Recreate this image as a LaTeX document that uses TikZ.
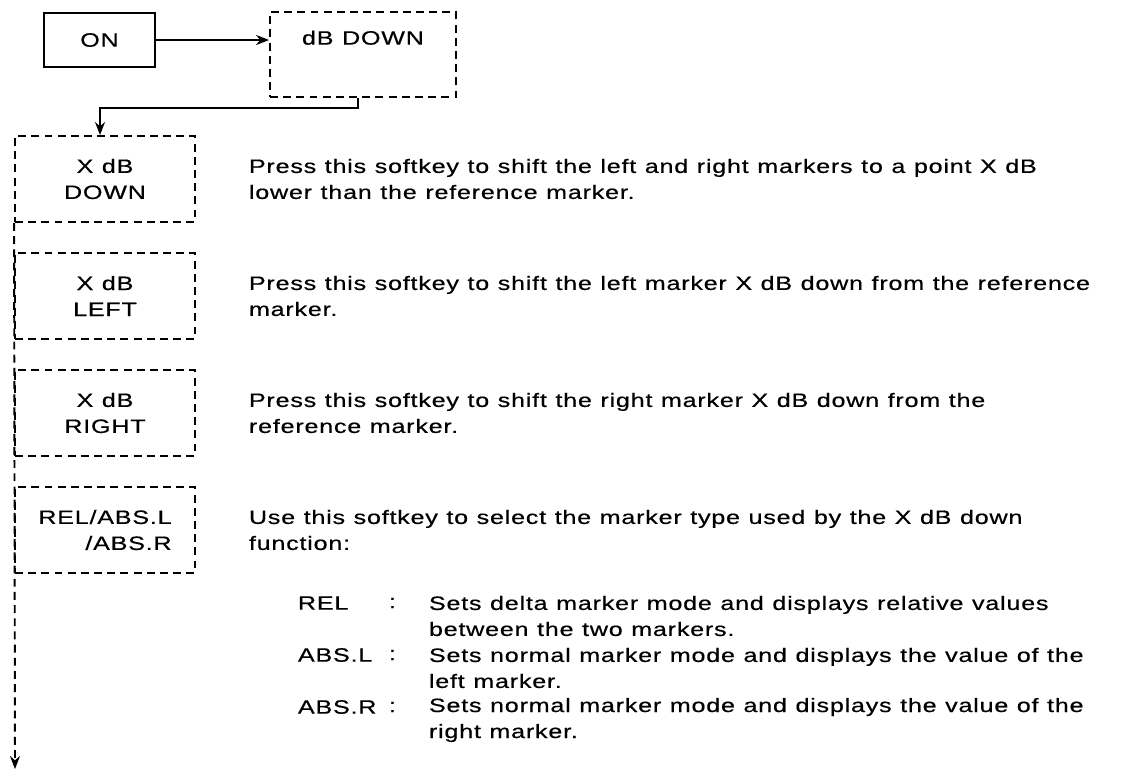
\documentclass[tikz,border=0pt]{standalone}
\usepackage{fontspec}
\setmainfont{Liberation Sans}[FakeStretch=1.3, LetterSpace=4, WordSpace=1.1, FakeBold=0.5]
\usetikzlibrary{arrows.meta, positioning, calc}
\tikzset{
  every picture/.style={line width=1.1pt, x=0.02cm, y=-0.02cm},
  key/.style={draw, align=center, inner sep=0pt, font=\fontsize{11}{14.8}\selectfont},
  softkey/.style={key, dash pattern=on 4.5pt off 3pt, minimum width=3.6cm, minimum height=1.72cm},
  desc/.style={anchor=west, align=left, inner sep=0pt, font=\fontsize{11}{14.8}\selectfont},
  arrow/.style={-{Stealth[length=2.6mm, width=2mm]}},
}
\begin{document}
\begin{tikzpicture}
  \useasboundingbox (0,0) rectangle (1124,779);

  % top row
  \node[key, minimum width=2.22cm, minimum height=1.08cm] (on) at (99.5,40) {ON};
  \node[key, dash pattern=on 4.5pt off 3pt, minimum width=3.72cm, minimum height=1.7cm] (dbdown) at (363,54.5) {dB DOWN\\ \strut};
  \draw[arrow] (on.east) -- (on.east -| dbdown.west);

  % softkey column
  \node[softkey] (xdown) at (105,179) {X dB\\DOWN};
  \node[softkey] (xleft) at (105,296) {X dB\\LEFT};
  \node[softkey] (xright) at (105,413) {X dB\\RIGHT};
  \node[softkey, align=right] (relabs) at (105,530) {REL/ABS.L\\/ABS.R};
  \draw[arrow] ([xshift=-0.1cm]dbdown.south) -- ++(0,10) -| ([xshift=-0.1cm]xdown.north);
  \coordinate (menuend) at (15,769);
  \draw[arrow, dash pattern=on 4.5pt off 3pt] (xdown.south west) -- (menuend);

  % descriptions
  \node[desc] (dxdown) at (248,179) {Press this softkey to shift the left and right markers to a point X dB\\lower than the reference marker.};
  \node[desc] (dxleft) at (248,296) {Press this softkey to shift the left marker X dB down from the reference\\marker.};
  \node[desc] (dxright) at (248,413) {Press this softkey to shift the right marker X dB down from the\\reference marker.};
  \node[desc] (drelabs) at (248,530) {Use this softkey to select the marker type used by the X dB down\\function:};

  % marker types
  \node[desc] (lrel) at (297,603) {REL};
  \node[desc] (crel) at (388,603) {:};
  \node[desc] (trel) at (428,616) {Sets delta marker mode and displays relative values\\between the two markers.};
  \node[desc] (labsl) at (297,655) {ABS.L};
  \node[desc] (cabsl) at (388,655) {:};
  \node[desc] (tabsl) at (428,668) {Sets normal marker mode and displays the value of the\\left marker.};
  \node[desc] (labsr) at (297,707) {ABS.R};
  \node[desc] (cabsr) at (388,707) {:};
  \node[desc] (tabsr) at (428,720) {Sets normal marker mode and displays the value of the\\right marker.};
\end{tikzpicture}
\end{document}
